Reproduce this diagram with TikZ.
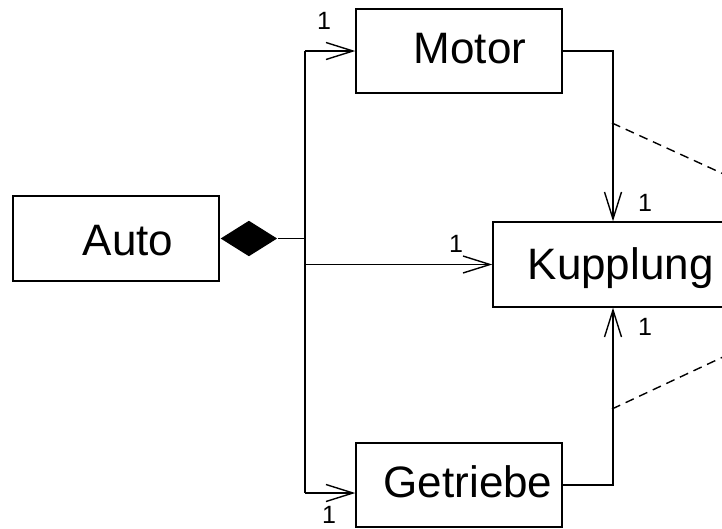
\documentclass[tikz,border=0pt]{standalone}
\usepackage{fontspec}
\setmainfont{Liberation Sans}
\usetikzlibrary{arrows.meta,shapes.geometric}
\begin{document}
\begin{tikzpicture}[x=1pt,y=-1pt,
  line width=1.4pt,
  classbox/.style={draw, rectangle, inner sep=0pt, line width=1.4pt},
  classname/.style={anchor=base west, inner sep=0pt, font=\fontsize{44}{50}\selectfont},
  mult/.style={inner sep=0pt, font=\fontsize{25}{29}\selectfont},
  assoc/.style={-{Straight Barb[length=27pt,width=17pt,line width=1.4pt]}},
  linkline/.style={dash pattern=on 9pt off 6pt, line width=1.4pt}]
\useasboundingbox (0,0) rectangle (722,528);

% class boxes
\node[classbox, minimum width=206pt, minimum height=85pt] (auto) at (116,238.5) {};
\node[classbox, minimum width=206pt, minimum height=84pt] (motor) at (459,51) {};
\node[classbox, minimum width=240pt, minimum height=85pt] (kupplung) at (613,264.5) {};
\node[classbox, minimum width=206pt, minimum height=84pt] (getriebe) at (459,485) {};

% class names
\node[classname] (autoname) at (82,255) {Auto};
\node[classname] (motorname) at (413,63) {Motor};
\node[classname] (kupplungname) at (527,279) {Kupplung};
\node[classname] (getriebename) at (383,497) {Getriebe};

% composition diamond
\node[draw=none, fill=black, shape=diamond, inner sep=0pt,
      minimum width=57pt, minimum height=36pt, anchor=west] (comp) at (auto.east) {};

% branching point of the composition
\coordinate (junction) at (305,238.5);
\draw (comp.east) -- (junction);
\draw (junction |- motor.west) -- (junction |- 0,493);

% composition parts
\draw[assoc] (junction |- motor.west) -- (motor.west);
\draw[assoc] (junction |- kupplung.west) -- (kupplung.west);
\draw[assoc] (junction |- 0,493) -- ([yshift=-8pt]getriebe.west);

% associations towards Kupplung
\draw[assoc] (motor.east) -| (kupplung.north);
\draw[assoc] (getriebe.east) -| (kupplung.south);

% links to the association class
\coordinate (linkA) at (612,123);
\coordinate (linkAend) at (740,181.5);
\coordinate (linkB) at (612,409);
\coordinate (linkBend) at (740,349);
\draw[linkline] (linkA) -- (linkAend);
\draw[linkline] (linkB) -- (linkBend);

% multiplicities
\node[mult] (m1) at (324,21) {1};
\node[mult] (m2) at (456,244) {1};
\node[mult] (m3) at (329,515) {1};
\node[mult] (m4) at (645,203) {1};
\node[mult] (m5) at (645,327) {1};
\end{tikzpicture}
\end{document}
